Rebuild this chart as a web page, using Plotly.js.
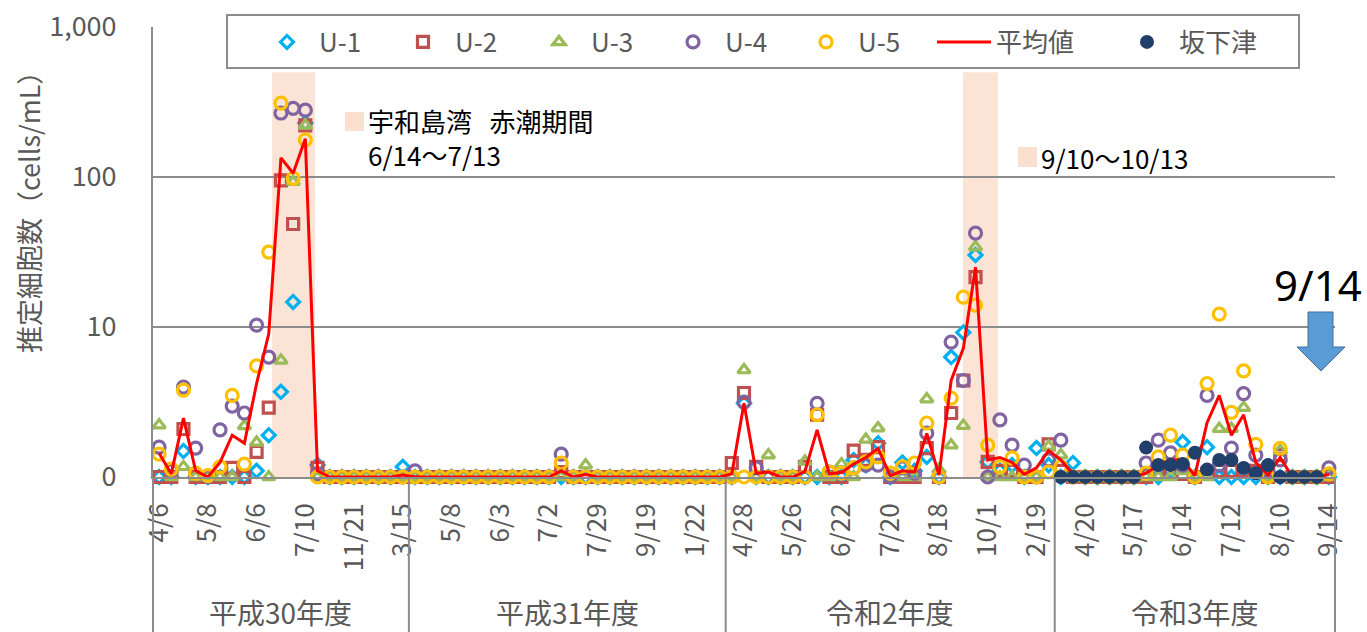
<!DOCTYPE html>
<html><head><meta charset="utf-8">
<script src="https://cdn.plot.ly/plotly-3.0.1.min.js"></script>
<style>html,body{margin:0;padding:0;background:#fff;} #chart{width:1367px;height:632px;}</style>
</head><body><div id="chart"></div>
<script>
// ---------------- data ----------------
const tickLabels = ['4/6','5/8','6/6','7/10','11/21','3/15','5/8','6/3','7/2','7/29','9/19','1/22',
  '4/28','5/26','6/22','7/20','8/18','10/1','2/19','4/20','5/17','6/14','7/12','8/10','9/14'];
const fiscalYears = ['平成30年度','平成31年度','令和2年度','令和3年度'];
const fiscalYearSizes = [21, 26, 27, 23];

// values as read on the log axis (the axis label "0" sits at 1)
const u1 = [
  1,1,1.49,1,1,1,1,1,1.1,1.9,3.7,14.7,229,1.2,1,1,1,1,1,1,1.17,
  1,1,1,1,1,1,1,1,1,1,1,1,1,1,1,1,1,1,1,1,1,1,1,1,1,1,
  1,3.1,1,1,1,1,1,1,1,1,1.3,1.2,1.68,1,1.25,1.1,1.36,1,6.3,9.2,30.2,1.26,1.1,1.2,1,1.56,1.2,
  1,1.24,1,1,1,1,1,1,1,1.1,1.71,1,1.58,1,1,1,1,1,1,1,1,1,1];
const u2 = [
  1,1,2.09,1,1,1,1.15,1,1.47,2.9,95,48.6,221,1.15,1,1,1,1,1,1,1,
  1,1,1,1,1,1,1,1,1,1,1,1,1.08,1,1,1,1,1,1,1,1,1,1,1,1,1,
  1.24,3.63,1.17,1,1,1,1.17,2.6,1,1,1.5,1.3,1.58,1,1,1,1.56,1,2.67,4.4,21.5,1.26,1.1,1.1,1,1,1.65,
  1.1,1,1,1,1,1,1,1,1.05,1.05,1.05,1,1.05,1.1,1.1,1.1,1.1,1,1.4,1,1,1,1];
const u3 = [
  2.22,1,1.17,1,1,1,1,2.19,1.7,1,6.0,93,221,1,1,1,1,1,1,1,1,
  1,1,1,1,1,1,1,1,1,1,1,1,1,1,1.2,1,1,1,1,1,1,1,1,1,1,1,
  1,5.17,1,1.4,1,1,1.27,1,1,1.22,1,1.78,2.12,1,1,1,3.31,1.12,1.63,2.2,34.1,1,1,1,1,1,1.6,
  1.4,1,1,1,1,1,1,1,1,1,1.1,1,1,2.1,2.1,2.9,1.05,1,1.5,1,1,1,1];
const u4 = [
  1.58,1.1,3.98,1.56,1,2.06,2.97,2.67,10.3,6.3,267,287,279,1.05,1,1,1,1,1,1,1,
  1.1,1,1,1,1,1,1,1,1,1,1,1,1.42,1,1,1,1,1,1,1,1,1,1,1,1,1,
  1,3.16,1.15,1,1,1,1,3.1,1.08,1.06,1.15,1.2,1.2,1,1.15,1.06,1.96,1,7.94,4.4,42.3,1,2.4,1.63,1.2,1,1.3,
  1.76,1,1,1,1,1,1,1.24,1.76,1.45,1.2,1,3.5,1.2,1.56,3.6,1.4,1.1,1.3,1,1,1,1.15];
const u5 = [
  1.42,1.13,3.8,1.06,1.02,1.17,3.5,1.22,5.5,31.6,311,98,177,1,1,1,1,1,1,1,1,
  1,1,1,1,1,1,1,1,1,1,1,1,1.24,1,1,1,1,1,1,1,1,1,1,1,1,1,
  1,1,1,1,1,1,1,2.6,1.08,1.06,1.15,1.26,1.36,1.06,1.17,1.24,2.29,1,3.36,15.8,14.0,1.63,1.17,1.34,1,1,1.08,
  1.17,1,1,1,1,1,1,1.06,1.36,1.9,1.4,1,4.2,12.2,2.7,5.1,1.65,1,1.55,1,1,1,1.05];
const meanValues = [
  1.44,1.05,2.47,1.1,1,1.25,1.9,1.68,4.2,9.0,134,106,180,1.1,1,1,1,1,1,1,1.03,
  1,1,1,1,1,1,1,1,1,1,1,1,1.1,1,1.04,1,1,1,1,1,1,1,1,1,1,1,
  1.05,3.1,1.06,1.08,1,1,1.09,2.06,1.05,1.07,1.22,1.35,1.55,1.02,1.1,1.08,1.95,1.03,4.4,7.2,25,1.3,1.35,1.25,1.04,1.15,1.5,
  1.3,1.05,1,1,1,1,1,1.06,1.2,1.3,1.3,1.02,2.3,3.5,1.9,2.6,1.25,1.03,1.35,1,1,1,1.04];
const sakashitazu = [
  null,null,null,null,null,null,null,null,null,null,null,null,null,null,null,null,null,null,null,null,null,
  null,null,null,null,null,null,null,null,null,null,null,null,null,null,null,null,null,null,null,null,null,null,null,null,null,null,
  null,null,null,null,null,null,null,null,null,null,null,null,null,null,null,null,null,null,null,null,null,null,null,null,null,null,null,
  1,1,1,1,1,1,1,1.57,1.2,1.2,1.22,1.45,1.12,1.3,1.3,1.15,1.06,1.2,1,1,1,1,null];
// red-tide periods, in category units
const redTideStart = [9.27, 65.97];
const redTideEnd = [12.79, 68.84];
const redTideTop = 500;

// ---------------- chart ----------------
const N = u1.length;
const xs = u1.map((_, i) => i);
const GRAY = '#8c8c8c';
const TXT = '#595959';
const FONT = '"Noto Sans CJK JP", "Noto Sans", sans-serif';
const PW = 1182, PH = 450, L = 153, T = 27;
const px = v => (v - L) / PW;           // pixel -> paper x
const py = v => (T + PH - v) / PH;      // pixel -> paper y

function markerTrace(name, y, symbol, size, color, lw) {
  return {type:'scatter', mode:'markers', name, x: xs, y, cliponaxis:false,
    marker:{symbol, size, color:'rgba(255,255,255,0)', line:{color, width:3.2}},
    legendwidth: lw};
}
const traces = [
  markerTrace('U-1', u1, 'diamond', 10, '#00B0F0', 67),
  markerTrace('U-2', u2, 'square', 11, '#C0504D', 67),
  markerTrace('U-3', u3, 'triangle-up', 11, '#9BBB59', 65),
  markerTrace('U-4', u4, 'circle', 12, '#8064A2', 64),
  markerTrace('U-5', u5, 'circle', 12, '#FFC000', 69),
  {type:'scatter', mode:'lines', name:'平均値', x: xs, y: meanValues, cliponaxis:false,
    line:{color:'#FF0000', width:3}, legendwidth:114},
  {type:'scatter', mode:'markers', name:'坂下津', x: xs, y: sakashitazu, cliponaxis:false,
    marker:{symbol:'circle', size:14, color:'#203F6B'}}
];

const shapes = [];
redTideStart.forEach((s, i) => {
  shapes.push({type:'rect', xref:'x', yref:'y', x0:s, x1:redTideEnd[i], y0:1, y1:redTideTop,
    fillcolor:'#FBE4D6', line:{width:0}, layer:'below'});
});
// fiscal-year dividers
let cum = 0;
const bounds = [0];
fiscalYearSizes.forEach(n => { cum += n; bounds.push(cum); });
bounds.forEach(b => {
  shapes.push({type:'line', xref:'paper', yref:'paper', x0:b / N, x1:b / N, y0:0, y1:-0.36,
    line:{color:GRAY, width:2}});
});
// legend frame
shapes.push({type:'rect', xref:'paper', yref:'paper', x0:px(227), x1:px(1299), y0:py(68), y1:py(15),
  fillcolor:'#ffffff', line:{color:GRAY, width:2}, layer:'above'});
// red-tide key squares
shapes.push({type:'rect', xref:'paper', yref:'paper', x0:px(345), x1:px(364), y0:py(131), y1:py(112),
  fillcolor:'#FBE0D0', line:{width:0}});
shapes.push({type:'rect', xref:'paper', yref:'paper', x0:px(1018), x1:px(1037), y0:py(167), y1:py(147),
  fillcolor:'#FBE0D0', line:{width:0}});
// blue arrow
const arrowPts = [[1308,312],[1333,312],[1333,347],[1345,347],[1321,371],[1297,347],[1308,347]];
shapes.push({type:'path', xref:'paper', yref:'paper',
  path: 'M' + arrowPts.map(p => px(p[0]).toFixed(5) + ',' + py(p[1]).toFixed(5)).join(' L') + ' Z',
  fillcolor:'#5B9BD5', line:{color:'#41719C', width:1}});

const annotations = [];
fiscalYears.forEach((fy, i) => {
  annotations.push({xref:'x', yref:'paper', x:(bounds[i] + bounds[i+1]) / 2 - 0.5, y:py(612),
    text:fy, showarrow:false, font:{size:28, color:TXT, family:FONT}, xanchor:'center', yanchor:'middle'});
});
annotations.push({xref:'paper', yref:'paper', x:px(28), y:py(206), text:'推定細胞数（cells/mL）',
  textangle:-90, showarrow:false, font:{size:27, color:TXT, family:FONT}, xanchor:'center', yanchor:'middle'});
annotations.push({xref:'paper', yref:'paper', x:px(366), y:py(137), text:'宇和島湾\u00a0\u00a0\u00a0赤潮期間<br>6/14～7/13',
  align:'left', showarrow:false, font:{size:26, color:'#000', family:FONT}, xanchor:'left', yanchor:'middle'});
annotations.push({xref:'paper', yref:'paper', x:px(1039), y:py(157), text:'9/10～10/13',
  showarrow:false, font:{size:26, color:'#000', family:FONT}, xanchor:'left', yanchor:'middle'});
annotations.push({xref:'paper', yref:'paper', x:px(1318), y:py(284), text:'9/14',
  showarrow:false, font:{size:42, color:'#000', family:'"Noto Sans", sans-serif'}, xanchor:'center', yanchor:'middle'});

const layout = {
  width:1367, height:632,
  margin:{l:L, r:1367 - L - PW, t:T, b:632 - T - PH, pad:0},
  paper_bgcolor:'#fff', plot_bgcolor:'#fff',
  font:{family:FONT, color:TXT},
  xaxis:{range:[-0.5, N - 0.5], tickmode:'array', tickvals: tickLabels.map((_, i) => i * 4), ticktext: tickLabels,
    tickangle:-90, showgrid:false, zeroline:false, showline:true, linecolor:GRAY, linewidth:2, ticks:'',
    tickfont:{size:26, color:TXT, family:FONT}, ticklabelstandoff:14, fixedrange:true},
  yaxis:{type:'log', range:[0, 3], tickmode:'array', tickvals:[1, 10, 100, 1000], ticktext:['0','10','100','1,000'],
    showgrid:true, gridcolor:GRAY, gridwidth:2, showline:true, linecolor:GRAY, linewidth:2, ticks:'', zeroline:false,
    tickfont:{size:27, color:TXT, family:FONT}, ticklabelstandoff:29, fixedrange:true},
  showlegend:true,
  legend:{orientation:'h', x:px(255), xanchor:'left', y:py(42), yanchor:'middle', itemwidth:54,
    bgcolor:'rgba(0,0,0,0)', borderwidth:0, font:{size:26, color:TXT, family:FONT}, tracegroupgap:0},
  shapes, annotations
};
Plotly.newPlot('chart', traces, layout, {displayModeBar:false, staticPlot:true});
</script>
</body></html>
